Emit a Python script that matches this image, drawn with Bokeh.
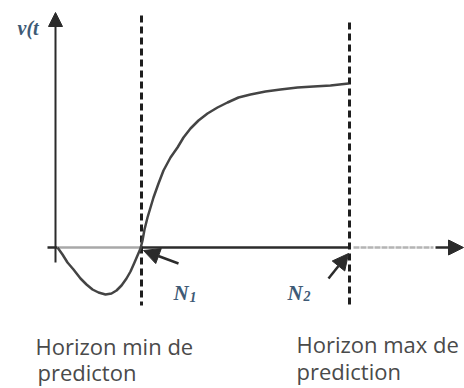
from bokeh.plotting import figure
from bokeh.models import Range1d, Arrow, NormalHead, ColumnDataSource
from bokeh.core.properties import value
from bokeh.embed import file_html
from bokeh.resources import INLINE

# Step response of the predicted output v(t) (arbitrary units)
time = [0, 5, 10, 16, 23, 29, 35, 41, 48, 54, 59, 64, 69, 73, 77, 80,
        83, 85, 87, 90, 93, 96, 101, 106, 113, 120, 126, 133, 141, 150,
        160, 170, 181, 193, 208, 223, 240, 256, 273, 291]
response = [0, -7, -15, -22, -31, -37, -42, -45, -47, -46, -43, -38, -31, -24, -15, -8,
            -1, 7, 18, 30, 40, 50, 64, 77, 90, 100, 110, 119, 127, 134,
            140, 145, 150, 153, 156, 158, 160, 161, 162, 164]

# Prediction horizons
horizon_pos = [84, 292]
horizon_names = ["N", "N"]
horizon_subs = ["1", "2"]
caption_lines = [["Horizon min de", "predicton"], ["Horizon max de", "prediction"]]
y_label = "v(t"

ink = "#2b2b2b"
label_blue = "#3e5a76"
text_grey = "#4a4a4a"

p = figure(width=464, height=388, output_backend="svg", toolbar_location=None,
           x_range=Range1d(-57, 407), y_range=Range1d(-141, 247),
           min_border=0, outline_line_color=None)
p.axis.visible = False
p.grid.visible = False
p.background_fill_color = "white"
p.border_fill_color = "white"

# horizontal time axis: light part, dark part between horizons, light tail, arrow
p.segment(x0=[-10], y0=[0], x1=[0], y1=[0], line_color=ink, line_width=2.5)
p.segment(x0=[0], y0=[0], x1=[horizon_pos[0]], y1=[0], line_color="#a8a8a8", line_width=2.5)
p.segment(x0=[horizon_pos[0]], y0=[0], x1=[horizon_pos[1]], y1=[0], line_color=ink, line_width=2.5)
p.segment(x0=[horizon_pos[1] + 4], y0=[0], x1=[376], y1=[0], line_color="#b4b4b4",
          line_width=2.5, line_dash="6 1")
p.add_layout(Arrow(end=NormalHead(size=15, fill_color=ink, line_color=ink),
                   x_start=378, y_start=0, x_end=406, y_end=0,
                   line_color=ink, line_width=2.5))

# vertical v(t) axis
p.add_layout(Arrow(end=NormalHead(size=14, fill_color=ink, line_color=ink),
                   x_start=-2, y_start=-15, x_end=-2, y_end=235,
                   line_color=ink, line_width=2))

# horizon markers
p.segment(x0=horizon_pos, y0=[232, 225], x1=horizon_pos, y1=[-58, -58],
          line_color="#1e1e1e", line_width=3, line_dash="7 4")

# response curve
src = ColumnDataSource(dict(t=time, v=response))
p.line("t", "v", source=src, line_color="#444444", line_width=2.5, line_join="round")

# pointers to the horizon crossings
p.add_layout(Arrow(end=NormalHead(size=16, fill_color=ink, line_color=ink),
                   x_start=121, y_start=-16, x_end=horizon_pos[0] + 2, y_end=-3,
                   line_color=ink, line_width=2.5))
p.add_layout(Arrow(end=NormalHead(size=16, fill_color=ink, line_color=ink),
                   x_start=271, y_start=-31, x_end=horizon_pos[1] - 1, y_end=-6,
                   line_color=ink, line_width=2.5))

serif = value("Liberation Serif")
p.text(x=[116, 230], y=[-45, -45], text=horizon_names, text_font=serif,
       text_font_size="21px", text_font_style="bold italic", text_color=label_blue,
       text_baseline="alphabetic")
p.text(x=[132, 246], y=[-49, -48], text=horizon_subs, text_font=serif,
       text_font_size="14px", text_font_style="bold italic", text_color=label_blue,
       text_baseline="alphabetic")
p.text(x=[-40], y=[220], text=[y_label], text_font=serif,
       text_font_size="20px", text_font_style="bold italic", text_color=label_blue,
       text_baseline="alphabetic")

# captions under the horizons
sans = value("Open Sans")
p.text(x=[-22, -20, 239, 239], y=[-98, -124, -96, -123],
       text=[caption_lines[0][0], caption_lines[0][1], caption_lines[1][0], caption_lines[1][1]],
       text_font=sans, text_font_size="22px", text_color=text_grey,
       text_baseline="alphabetic")

open("out.html", "w").write(file_html(p, INLINE))
